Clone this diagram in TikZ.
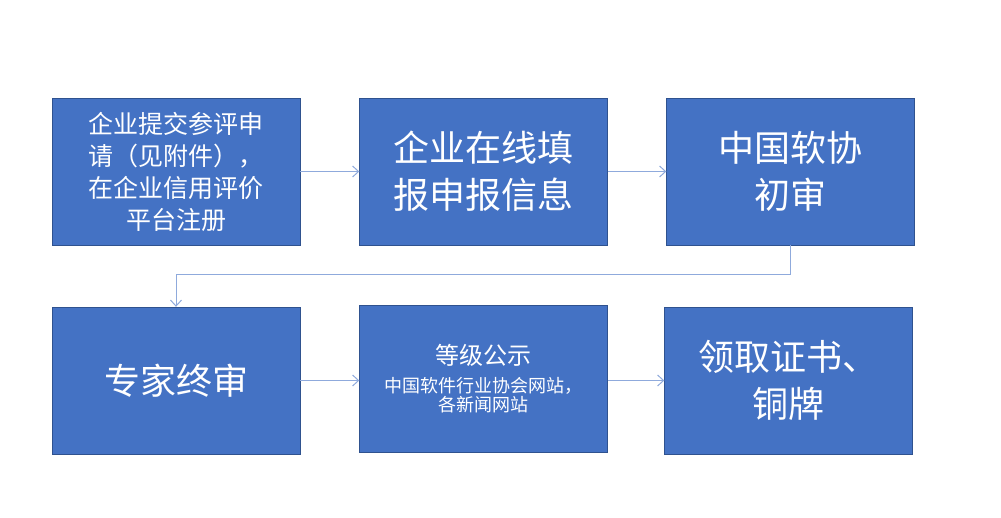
\documentclass[tikz,border=0pt]{standalone}
\usepackage{fontspec}
\setmainfont{Noto Sans CJK SC}
\usetikzlibrary{arrows.meta}
\definecolor{boxc}{HTML}{4472C4}
\definecolor{edgec}{HTML}{2F528F}
\definecolor{arr}{HTML}{8FAADC}
\begin{document}
\begin{tikzpicture}[x=1pt,y=-1pt,
  box/.style={draw=edgec,fill=boxc,text=white,minimum width=248pt,minimum height=147pt,align=center,inner sep=0pt},
  con/.style={draw=arr,line width=1pt,-{Straight Barb[length=6pt,width=11pt]}},
  big/.style={font=\fontsize{36}{47}\selectfont},
  mid/.style={font=\fontsize{25}{32}\selectfont}]
\useasboundingbox (0,0) rectangle (1001,518);
\node[box,mid] (a) at (176,171.5) {企业提交参评申\\请（见附件），\\在企业信用评价\\平台注册};
\node[box,big] (b) at (483.5,171.5) {企业在线填\\报申报信息};
\node[box,big] (c) at (790.5,171.5) {中国软协\\初审};
\node[box,big] (d) at (176,380.5) {专家终审};
\node[box] (e) at (483.5,378.5) {\fontsize{24}{30}\selectfont 等级公示\\[10pt]\fontsize{18}{24}\selectfont 中国软件行业协会网站，\\ \fontsize{18}{24}\selectfont 各新闻网站};
\node[box,big] (f) at (788.5,380.5) {领取证书、\\铜牌};
\draw[con] (a.east) -- (b.west);
\draw[con] (b.east) -- (c.west);
\draw[con] (c.south) -- ++(0,29) -| (d.north);
\draw[con] (d.east) -- (e.west|-d.east);
\draw[con] (e.east|-f.west) -- (f.west);
\end{tikzpicture}
\end{document}
